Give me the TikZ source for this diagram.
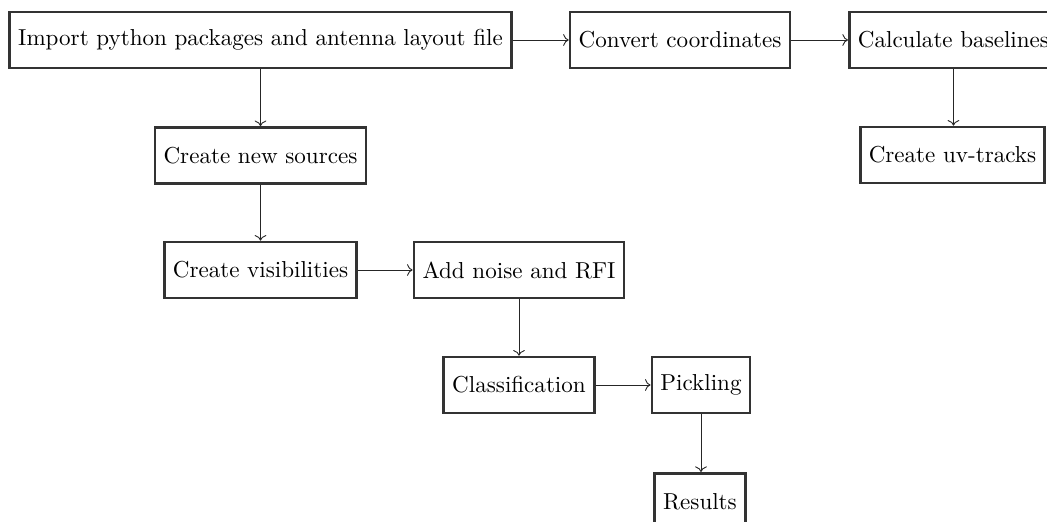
\documentclass[tikz,border=0pt]{standalone}
\usetikzlibrary{arrows.meta}
\begin{document}
\begin{tikzpicture}[x=0.4444pt,y=-0.4444pt,
  box/.style={draw=black!80, very thick, minimum height=56*0.4444pt, inner xsep=3.8pt, inner ysep=3pt, font=\fontsize{10.25}{12}\selectfont},
  arr/.style={->, black!85}]
\useasboundingbox[clip] (0,0) rectangle (1047,522);
\node[box] (imp) at (260.5,40) {Import python packages and antenna layout file};
\node[box] (conv) at (680,40) {Convert coordinates};
\node[box, anchor=west] (calc) at (848,40) {Calculate baselines};
\node[box] (uv) at (952.5,155) {Create uv-tracks};
\node[box] (src) at (260.5,155.5) {Create new sources};
\node[box] (vis) at (260.5,270) {Create visibilities};
\node[box] (noise) at (519,270) {Add noise and RFI};
\node[box] (cls) at (519,385) {Classification};
\node[box] (pick) at (701,385) {Pickling};
\node[box, anchor=north] (res) at (700,472) {Results};
\draw[arr] (imp) -- (conv);
\draw[arr] (conv) -- (calc);
\draw[arr] (calc.south) -- (uv.north -| calc.south);
\draw[arr] (imp) -- (src);
\draw[arr] (src) -- (vis);
\draw[arr] (vis) -- (noise);
\draw[arr] (noise) -- (cls);
\draw[arr] (cls) -- (pick);
\draw[arr] (pick.south) -- (pick.south |- res.north);
\end{tikzpicture}
\end{document}
